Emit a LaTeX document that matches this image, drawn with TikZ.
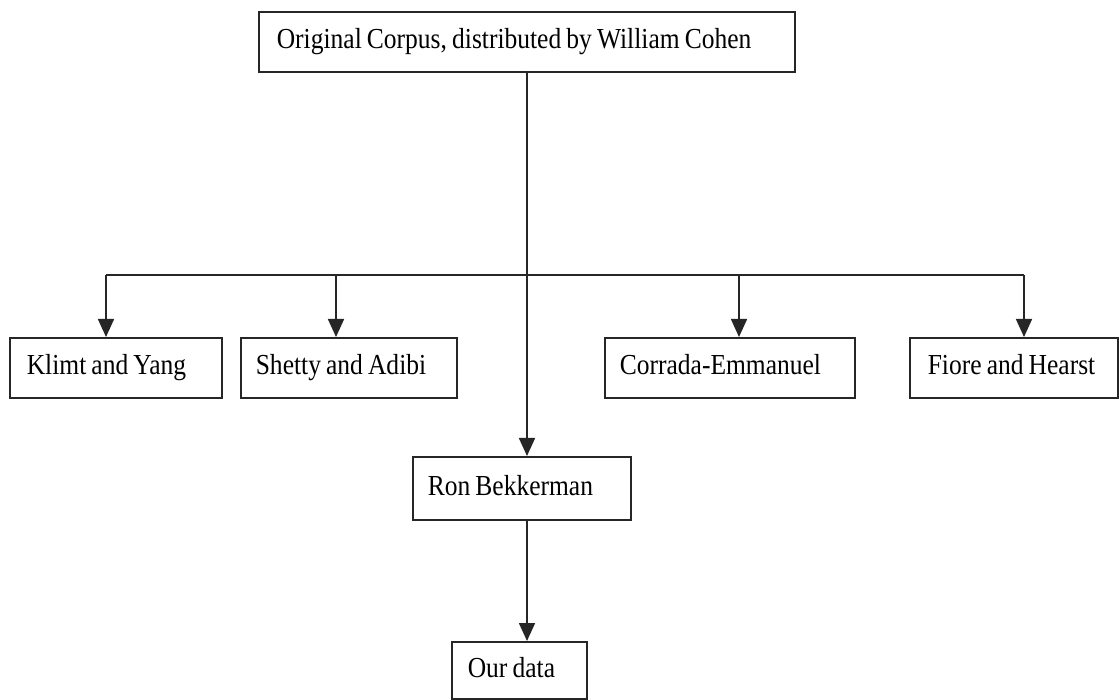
\documentclass[tikz,border=0pt]{standalone}
\usepackage{fontspec}
\setmainfont[FakeStretch=0.88,WordSpace=0.8]{Liberation Serif}
\usetikzlibrary{arrows.meta}
\begin{document}
\begin{tikzpicture}[x=1pt,y=-1pt,
  box/.style={draw=black!85, line width=1.6pt, anchor=north west, rectangle,
    inner ysep=0pt, text height=20pt, text depth=6pt,
    font=\fontsize{29}{34}\selectfont},
  link/.style={draw=black!85, line width=1.6pt},
  arr/.style={link, -{Triangle[width=16pt,length=18pt]}}]
\useasboundingbox (0,0) rectangle (1120,700);
\fill[white] (0,0) rectangle (1120,700);

% boxes: name, position, width, height, left padding, label (left aligned)
\newcommand{\pbox}[7]{%
  \node[box, minimum width=#4pt, minimum height=#5pt, inner xsep=#6pt]
    (#1) at (#2,#3) {\makebox[\dimexpr#4pt-2\dimexpr#6pt\relax\relax][l]{#7}};}
\pbox{orig}{258}{11}{536}{60}{18}{Original Corpus, distributed by William Cohen}
\pbox{klimt}{9}{337}{212}{60}{17}{Klimt and Yang}
\pbox{shetty}{240}{337}{216}{60}{15}{Shetty and Adibi}
\pbox{corrada}{604}{337}{250}{60}{15}{Corrada-Emmanuel}
\pbox{fiore}{909}{337}{208}{60}{18}{Fiore and Hearst}
\pbox{ron}{412}{456}{218}{63}{15}{Ron Bekkerman}
\pbox{our}{451}{641}{135}{57}{16}{Our data}

% branching bus
\coordinate (bl) at (106,275);
\coordinate (br) at (1024,275);
\draw[link] (bl) -- (br);
\draw[arr] (bl) -- (bl |- klimt.north);
\draw[arr] (336,275) coordinate (bs) -- (bs |- shetty.north);
\draw[arr] (739,275) coordinate (bc) -- (bc |- corrada.north);
\draw[arr] (br) -- (br |- fiore.north);

% main trunk
\coordinate (trunk) at (527,71);
\draw[arr] (trunk) -- (trunk |- ron.north);
\draw[arr] (trunk |- ron.south) -- (trunk |- our.north);
\end{tikzpicture}
\end{document}
